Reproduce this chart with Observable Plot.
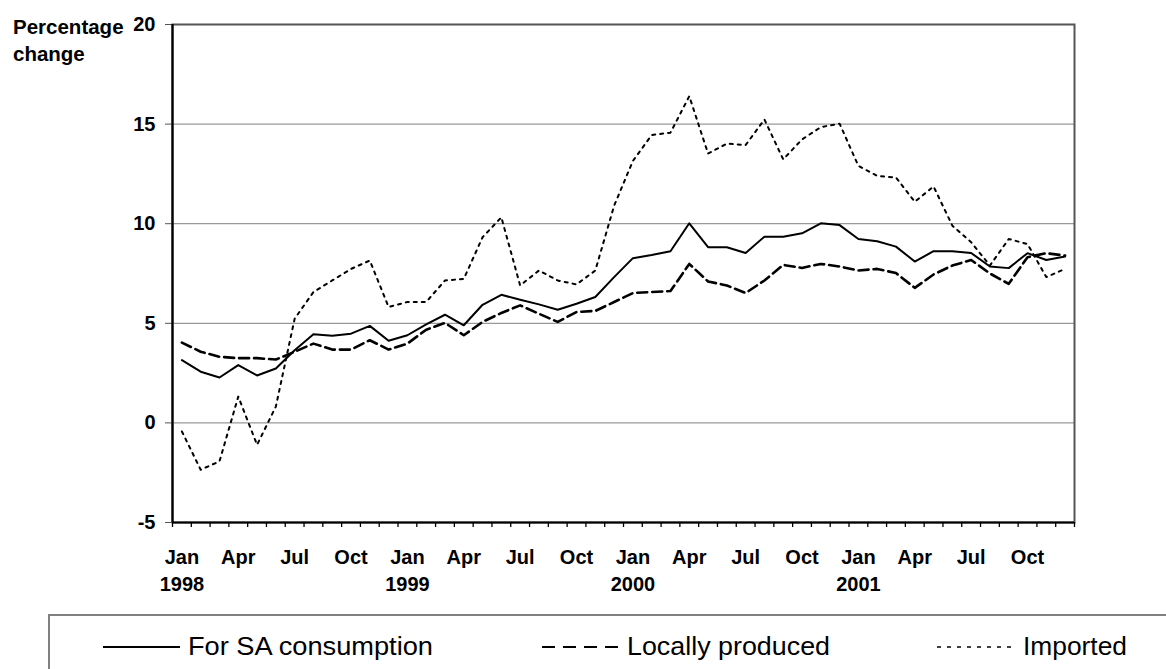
<!DOCTYPE html>
<html>
<head>
<meta charset="utf-8">
<script src="https://cdn.jsdelivr.net/npm/d3@7"></script>
<script src="https://cdn.jsdelivr.net/npm/@observablehq/plot@0.6"></script>
<style>
  body { margin: 0; background: #fff; font-family: "Liberation Sans", Arial, sans-serif; }
  #wrap { position: relative; width: 1166px; height: 669px; overflow: hidden; }
  #chart { position: absolute; left: 0; top: 0; }
  #ylab { position: absolute; left: 13px; top: 12.5px; font-weight: bold; font-size: 20.5px; line-height: 27px; color: #000; }
  #legend { position: absolute; left: 0; top: 600px; }
</style>
</head>
<body>
<div id="wrap">
  <div id="chart"></div>
  <div id="ylab">Percentage<br>change</div>
  <svg id="legend" width="1166" height="69"></svg>
</div>
<script>
// ---- data ----
const years = [1998, 1999, 2000, 2001];
const quarterLabels = ["Jan", "Apr", "Jul", "Oct"];
const seriesNames = ["For SA consumption", "Locally produced", "Imported"];
const yTicks = [-5, 0, 5, 10, 15, 20];
const gridValues = [0, 5, 10, 15];

// monthly values, Jan 1998 .. Dec 2001
const forSAConsumption = [
  3.15, 2.57, 2.28, 2.90, 2.38, 2.73, 3.65, 4.45, 4.37, 4.48, 4.87, 4.12,
  4.40, 4.95, 5.43, 4.90, 5.93, 6.43, 6.18, 5.95, 5.68, 5.98, 6.32, 7.32,
  8.27, 8.43, 8.62, 10.02, 8.82, 8.82, 8.53, 9.35, 9.35, 9.52, 10.02, 9.93,
  9.23, 9.12, 8.85, 8.10, 8.62, 8.62, 8.53, 7.85, 7.77, 8.52, 8.18, 8.35
];
const locallyProduced = [
  4.03, 3.57, 3.32, 3.25, 3.25, 3.18, 3.57, 3.98, 3.68, 3.68, 4.15, 3.68,
  3.98, 4.68, 5.02, 4.40, 5.07, 5.52, 5.90, 5.48, 5.07, 5.57, 5.62, 6.07,
  6.52, 6.57, 6.62, 7.98, 7.10, 6.90, 6.52, 7.15, 7.93, 7.78, 7.98, 7.85,
  7.65, 7.73, 7.52, 6.78, 7.45, 7.90, 8.18, 7.50, 6.98, 8.32, 8.52, 8.40
];
const imported = [
  -0.43, -2.35, -1.93, 1.32, -1.10, 0.82, 5.23, 6.57, 7.15, 7.73, 8.15, 5.82,
  6.07, 6.07, 7.15, 7.23, 9.32, 10.32, 6.90, 7.65, 7.15, 6.95, 7.65, 10.90,
  13.15, 14.45, 14.57, 16.40, 13.52, 14.02, 13.95, 15.23, 13.23, 14.23, 14.85, 15.02,
  12.90, 12.40, 12.32, 11.10, 11.87, 9.90, 9.07, 7.90, 9.23, 8.98, 7.32, 7.73
];

// ---- build table ----
const seriesValues = [forSAConsumption, locallyProduced, imported];
const rows = [];
seriesValues.forEach((vals, s) => vals.forEach((v, i) => rows.push({series: seriesNames[s], t: i, value: v})));
const nMonths = forSAConsumption.length;
const mid = d => d.t + 0.5;

const quarterTicks = [];
years.forEach((y, yi) => quarterLabels.forEach((q, qi) => quarterTicks.push(yi * 12 + qi * 3 + 0.5)));
const yearTicks = years.map((y, yi) => yi * 12 + 0.5);

const font = {fontSize: 20, fontWeight: "bold", fontFamily: "Liberation Sans, Arial, sans-serif"};

const chart = Plot.plot({
  width: 1166,
  height: 610,
  marginLeft: 172,
  marginRight: 92,
  marginTop: 24,
  marginBottom: 88,
  style: {fontFamily: "Liberation Sans, Arial, sans-serif", background: "#fff", color: "#000"},
  x: {domain: [0, nMonths]},
  y: {domain: [-5, 20]},
  marks: [
    Plot.gridY(gridValues, {stroke: "#999", strokeOpacity: 1, strokeWidth: 1.3}),
    Plot.frame({stroke: "#555", strokeWidth: 2}),
    Plot.axisY({ticks: yTicks, tickSize: 7, tickPadding: 10, label: null, stroke: "#555",
      tickFormat: v => String(v), ...font}),
    Plot.axisX({ticks: d3.range(nMonths + 1), tickSize: 5, tickFormat: () => "", label: null, strokeWidth: 1.3}),
    Plot.axisX({ticks: quarterTicks, tickSize: 0, tickPadding: 27,
      tickFormat: v => quarterLabels[Math.round(v - 0.5) % 12 / 3], label: null, ...font}),
    Plot.axisX({ticks: yearTicks, tickSize: 0, tickPadding: 54,
      tickFormat: v => String(years[Math.floor(v / 12)]), label: null, ...font}),
    Plot.ruleX([0], {stroke: "#000", strokeWidth: 2.2}),
    Plot.ruleY([-5], {stroke: "#000", strokeWidth: 2.2}),
    Plot.line(rows.filter(d => d.series === seriesNames[2]), {x: mid, y: "value", stroke: "#000", strokeWidth: 2, strokeDasharray: "3,5"}),
    Plot.line(rows.filter(d => d.series === seriesNames[1]), {x: mid, y: "value", stroke: "#000", strokeWidth: 2.6, strokeDasharray: "10,5"}),
    Plot.line(rows.filter(d => d.series === seriesNames[0]), {x: mid, y: "value", stroke: "#000", strokeWidth: 2})
  ]
});
document.getElementById("chart").appendChild(chart);

// ---- legend ----
const legend = d3.select("#legend");
legend.append("rect").attr("x", 49).attr("y", 15).attr("width", 1200).attr("height", 120)
  .attr("fill", "none").attr("stroke", "#808080").attr("stroke-width", 2);
const legendItems = [
  {x1: 103, x2: 180, tx: 188, len: 245, dash: null, w: 2},
  {x1: 542, x2: 620, tx: 627, len: 203, dash: "13,8", w: 2},
  {x1: 937, x2: 1017, tx: 1023, len: 104, dash: "4,6", w: 1.6}
];
legendItems.forEach((it, i) => {
  legend.append("line").attr("x1", it.x1).attr("x2", it.x2).attr("y1", 47).attr("y2", 47)
    .attr("stroke", "#000").attr("stroke-width", it.w).attr("stroke-dasharray", it.dash);
  legend.append("text").attr("x", it.tx).attr("y", 55).attr("font-size", 26)
    .attr("textLength", it.len).attr("lengthAdjust", "spacingAndGlyphs")
    .attr("font-family", "Liberation Sans, Arial, sans-serif").attr("fill", "#000").text(seriesNames[i]);
});
</script>
</body>
</html>
